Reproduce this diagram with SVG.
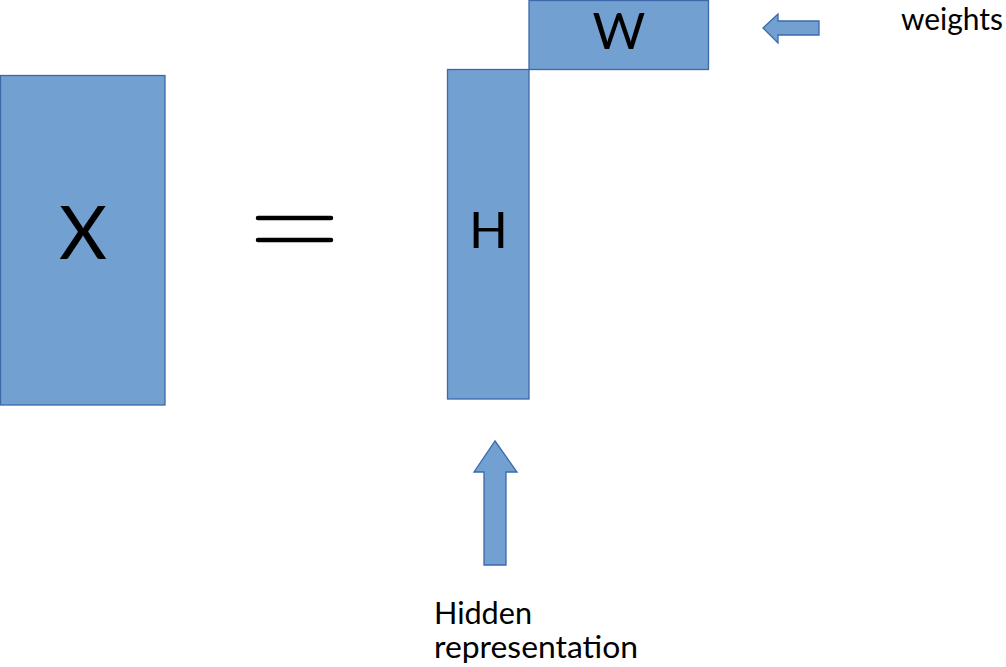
<svg xmlns="http://www.w3.org/2000/svg" width="1006" height="667" viewBox="0 0 1006 667">
<style>
.box{fill:#71a0d1;stroke:#3d68ab;stroke-width:1.3}
.arr{fill:#71a0d1;stroke:#3d68ab;stroke-width:1.3;stroke-linejoin:miter}
.big{font-family:Lato,"Liberation Sans",sans-serif;font-weight:400;fill:#000;text-anchor:middle}
.lbl{font-family:Lato,"Liberation Sans",sans-serif;font-weight:400;fill:#000;font-size:30px}
.eq{stroke:#000;stroke-width:4.5;stroke-linecap:round}
</style>
<rect width="1006" height="667" fill="#fff"/>
<g id="X"><rect class="box" x="0.5" y="75.5" width="164.5" height="329.5"/><text class="big" x="83" y="259" font-size="74">X</text></g>
<g id="equals"><line class="eq" x1="258" y1="218" x2="331" y2="218"/><line class="eq" x1="258" y1="240" x2="331" y2="240"/></g>
<g id="H"><rect class="box" x="447.5" y="69.5" width="81.5" height="329.5"/><text class="big" x="488.5" y="248" font-size="51">H</text></g>
<g id="W"><rect class="box" x="529" y="0.5" width="179.5" height="69"/><text class="big" x="619" y="49" font-size="51">W</text></g>
<g id="connectors">
<polygon id="weights-arrow" class="arr" points="763,28 778,14 778,21 819,21 819,35 778,35 778,43"/>
<polygon id="hidden-arrow" class="arr" points="495,441 517,472 506,472 506,565 484,565 484,472 474,472"/>
</g>
<g id="weights-label"><text class="lbl" x="901" y="30" textLength="102" lengthAdjust="spacingAndGlyphs">weights</text></g>
<g id="hidden-label"><text class="lbl" x="434" y="624" textLength="98" lengthAdjust="spacingAndGlyphs">Hidden</text><text class="lbl" x="434" y="658" textLength="204" lengthAdjust="spacingAndGlyphs">representation</text></g>
</svg>
